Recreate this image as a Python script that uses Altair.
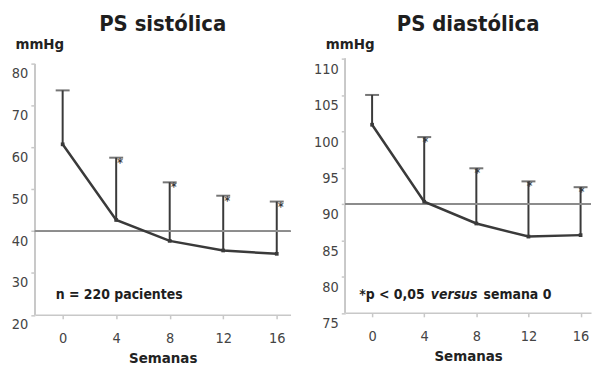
import altair as alt
import pandas as pd

# Weeks of follow-up and blood pressure (mean and upper error limit, mmHg)
weeks = [0, 4, 8, 12, 16]
sys_mean = [60.8, 42.7, 37.7, 35.4, 34.6]
sys_upper = [73.7, 57.6, 51.7, 48.5, 47.1]
dia_mean = [100.9, 90.3, 87.3, 85.5, 85.7]
dia_upper = [105.0, 99.2, 94.9, 93.1, 92.3]
significance = ["", "*", "*", "*", "*"]
sys_reference = 40
dia_reference = 90
sys_ticks = [20, 30, 40, 50, 60, 70, 80]
dia_ticks = [75, 80, 85, 90, 95, 100, 105, 110]

sys_title = "PS sistólica"
dia_title = "PS diastólica"
sys_note = ["n = 220 pacientes"]
dia_note = ["*p < 0,05", "versus", "semana 0"]

FONT = "DejaVu Sans Condensed, Liberation Sans Narrow, sans-serif"
INK = "#3a3a3a"
AXIS = "#c8c8c8"


def panel(title, mean, upper, ref, y_ticks, y_max, x_dom, width, height,
          label_offset, star_dx, notes):
    df = pd.DataFrame({"week": weeks, "mean": mean, "upper": upper,
                       "sig": significance})
    x = alt.X("week:Q",
              scale=alt.Scale(domain=x_dom, nice=False, zero=False),
              axis=alt.Axis(values=weeks, tickCount=len(weeks),
                            title="Semanas", grid=False,
                            domainColor=AXIS, domainWidth=1.5,
                            tickColor=AXIS, tickSize=4, tickWidth=1.5,
                            labelFont=FONT, labelFontSize=14.5,
                            labelColor="#444", labelPadding=13,
                            labelOverlap=False,
                            titleFont=FONT, titleFontSize=15,
                            titleFontWeight="bold", titleColor="#222",
                            titlePadding=5))
    y = alt.Y("mean:Q",
              scale=alt.Scale(domain=[y_ticks[0], y_max], nice=False,
                              zero=False),
              axis=alt.Axis(values=y_ticks, tickCount=len(y_ticks),
                            title="mmHg", grid=False,
                            domain=False, tickColor=AXIS, tickSize=4,
                            tickWidth=1.5, labelOffset=label_offset,
                            labelOverlap=False,
                            labelFont=FONT, labelFontSize=14.5,
                            labelColor="#444", labelPadding=3,
                            titleFont=FONT, titleFontSize=15,
                            titleFontWeight="bold", titleColor="#222",
                            titleAngle=0, titleAlign="left",
                            titleBaseline="alphabetic", titleX=-20,
                            titleY=-10))
    base = alt.Chart(df)

    y_axis_line = base.mark_rule(color=AXIS, strokeWidth=1.5).encode(
        x=alt.value(0), y=alt.datum(y_ticks[0]), y2=alt.datum(y_ticks[-1]))
    reference = base.mark_rule(color="#8c8c8c", strokeWidth=1.5).encode(
        y=alt.datum(ref))
    stems = base.mark_rule(color=INK, strokeWidth=2).encode(
        x=x, y=y, y2="upper:Q")
    caps = base.mark_tick(color=INK, thickness=2, size=14,
                          orient="horizontal").encode(x="week:Q", y="upper:Q")
    stars = base.mark_text(color=INK, fontSize=12, font=FONT,
                           fontWeight="bold", dx=star_dx, dy=5).encode(
        x="week:Q", y="upper:Q", text="sig:N")
    line = base.mark_line(color=INK, strokeWidth=2.5).encode(
        x="week:Q", y="mean:Q")
    dots = base.mark_square(color=INK, size=14, opacity=1).encode(
        x="week:Q", y="mean:Q")

    layers = [stems, y_axis_line, reference, caps, line, dots, stars] + notes
    return alt.layer(*layers).properties(
        width=width, height=height,
        title=alt.TitleParams(title, font=FONT, fontSize=22,
                              fontWeight="bold", color="#1e1e1e",
                              anchor="middle", frame="group", offset=1))


note_src = pd.DataFrame({"k": [0]})


def note(text, px, py, style="normal"):
    return alt.Chart(note_src).mark_text(
        text=text, align="left", baseline="middle", font=FONT,
        fontSize=14, fontWeight="bold", fontStyle=style, color="#1e1e1e"
    ).encode(x=alt.value(px), y=alt.value(py))


left = panel(sys_title, sys_mean, sys_upper, sys_reference, sys_ticks, 81.3,
             [-2.08, 17.03], 257, 257.5, 10, 4,
             [note(sys_note[0], 21, 238)])
right = panel(dia_title, dia_mean, dia_upper, dia_reference, dia_ticks, 110,
              [-2.06, 16.8], 247, 255.5, 11, 1,
              [note(dia_note[0], 14, 238),
               note(dia_note[1], 86, 238, "italic"),
               note(dia_note[2], 139, 238)])

chart = alt.hconcat(left, right, spacing=22).properties(
    padding={"left": 11, "top": 12, "right": 0, "bottom": 0}
).configure_view(stroke=None)

chart.save("out.html", embed_options={"renderer": "svg", "actions": False})
